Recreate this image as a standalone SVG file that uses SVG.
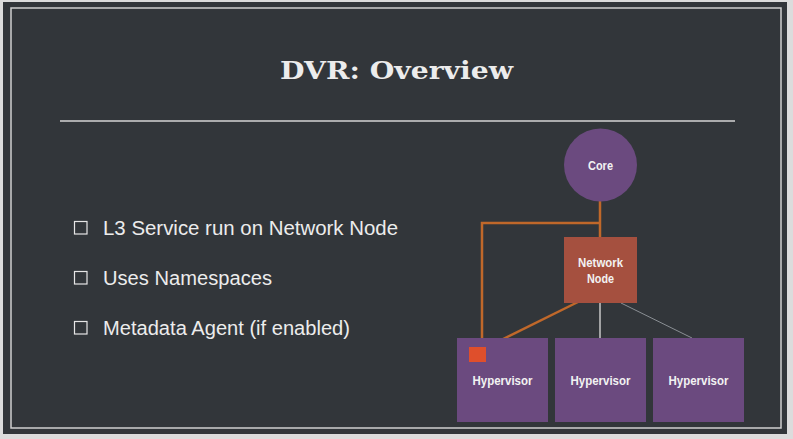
<svg xmlns="http://www.w3.org/2000/svg" width="793" height="439" viewBox="0 0 793 439">
<style>
.title{font-family:"DejaVu Serif","Liberation Serif",serif;font-weight:bold;font-size:25px;fill:#ececec}
.bullet{font-family:"Liberation Sans","Helvetica Neue",Arial,sans-serif;font-size:19.5px;fill:#ececec}
.box{fill:none;stroke:#e6e6e6;stroke-width:1.2}
.lbl{font-family:"Liberation Sans",Arial,sans-serif;font-weight:bold;font-size:13.5px;fill:#f2f2f2;text-anchor:middle}
.purple{fill:#6b4a7f}
.orange{stroke:#c0682a;stroke-width:2.5;fill:none}
</style>
<rect x="0" y="0" width="793" height="439" fill="#dcdcdc"/>
<rect x="3" y="2" width="784" height="432" fill="#32363a"/>
<rect x="11" y="8" width="770" height="420" fill="none" stroke="#d0d0d0" stroke-width="1.5"/>
<text class="title" x="280" y="79" textLength="233" lengthAdjust="spacingAndGlyphs">DVR: Overview</text>
<line x1="60" y1="121" x2="735" y2="121" stroke="#d4d4d4" stroke-width="1.5"/>
<g id="bullets">
<rect class="box" x="74.5" y="221.5" width="12.5" height="12.5"/>
<text class="bullet" x="103" y="235" textLength="295" lengthAdjust="spacingAndGlyphs">L3 Service run on Network Node</text>
<rect class="box" x="74.5" y="271.5" width="12.5" height="12.5"/>
<text class="bullet" x="103" y="285" textLength="169" lengthAdjust="spacingAndGlyphs">Uses Namespaces</text>
<rect class="box" x="74.5" y="321.5" width="12.5" height="12.5"/>
<text class="bullet" x="103" y="335" textLength="247" lengthAdjust="spacingAndGlyphs">Metadata Agent (if enabled)</text>
</g>
<g id="connectors">
<line x1="600" y1="303" x2="600" y2="338" stroke="#c8c8c8" stroke-width="1.5"/>
<line x1="621" y1="303" x2="692" y2="338" stroke="#8a8f94" stroke-width="1"/>
<polyline class="orange" points="600,198 600,237"/>
<polyline class="orange" points="600,223 482,223 482,348"/>
<line class="orange" x1="586" y1="298" x2="497" y2="342"/>
</g>
<g id="core">
<circle class="purple" cx="600.5" cy="165" r="36.5"/>
<text class="lbl" x="600.5" y="170" textLength="25" lengthAdjust="spacingAndGlyphs">Core</text>
</g>
<g id="network-node">
<rect x="564" y="237" width="73" height="66" fill="#a5503f"/>
<text class="lbl" x="600.5" y="267" textLength="45" lengthAdjust="spacingAndGlyphs">Network</text>
<text class="lbl" x="600.5" y="283" textLength="27" lengthAdjust="spacingAndGlyphs">Node</text>
</g>
<g id="hypervisor-1">
<rect class="purple" x="457" y="338" width="91" height="84"/>
<rect x="469" y="347" width="17" height="15" fill="#df4f2c"/>
<text class="lbl" x="502.5" y="385" textLength="60" lengthAdjust="spacingAndGlyphs">Hypervisor</text>
</g>
<g id="hypervisor-2">
<rect class="purple" x="555" y="338" width="91" height="84"/>
<text class="lbl" x="600.5" y="385" textLength="60" lengthAdjust="spacingAndGlyphs">Hypervisor</text>
</g>
<g id="hypervisor-3">
<rect class="purple" x="653" y="338" width="91" height="84"/>
<text class="lbl" x="698.5" y="385" textLength="60" lengthAdjust="spacingAndGlyphs">Hypervisor</text>
</g>
</svg>
